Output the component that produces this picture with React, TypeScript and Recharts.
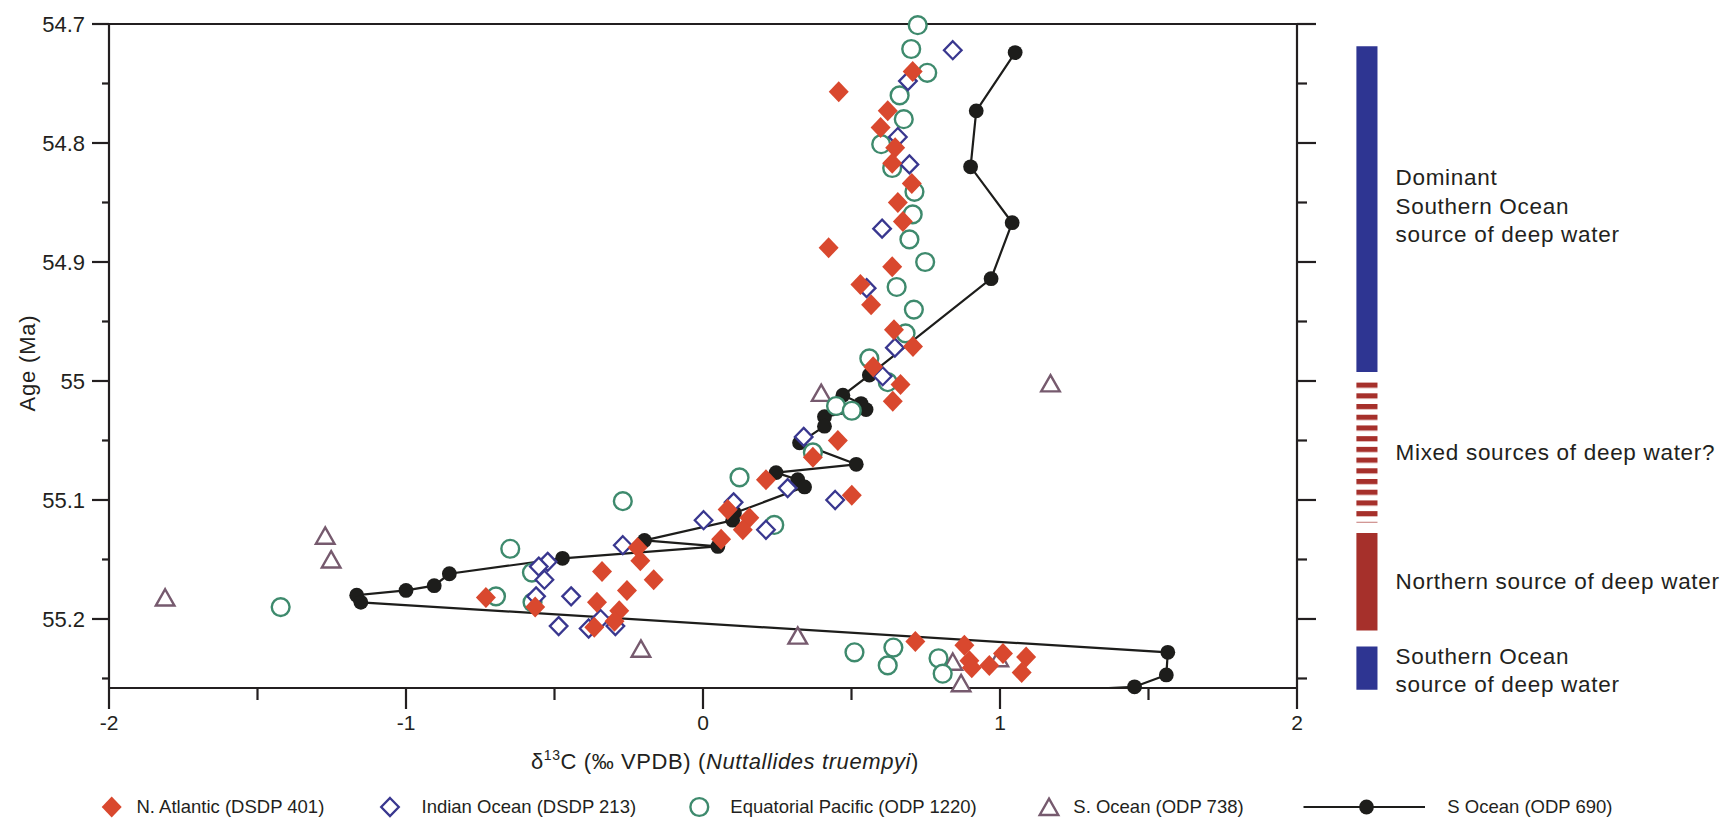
import React from 'react';
import { ScatterChart, Scatter, XAxis, YAxis, ReferenceArea, Legend, Label } from 'recharts';

const FONT = '"Liberation Sans", Arial, Helvetica, sans-serif';
const AXIS = '#231F20';
const TEXT = '#231F20';
const RED = '#D9482E';
const NAVY = '#39378F';
const GREEN = '#3E8A6D';
const MAUVE = '#765A6E';
const BLACK = '#1D1D1B';
const BAR_BLUE = '#2E3592';
const BAR_RED = '#A6302B';

const X_DOMAIN: [number, number] = [-2, 2];
const AGE_DOMAIN: [number, number] = [54.7, 55.258];
const X_TICKS = [-2, -1.5, -1, -0.5, 0, 0.5, 1, 1.5, 2];
const X_MAJOR = [-2, -1, 0, 1, 2];
const AGE_TICKS = [54.7, 54.75, 54.8, 54.85, 54.9, 54.95, 55, 55.05, 55.1, 55.15, 55.2, 55.25];
const AGE_MAJOR = [54.7, 54.8, 54.9, 55, 55.1, 55.2];

type P = { x: number; y: number };

// N. Atlantic (DSDP 401)
const N_ATLANTIC: P[] = [
  { x: 0.706, y: 54.740 }, { x: 0.457, y: 54.757 }, { x: 0.622, y: 54.773 }, { x: 0.598, y: 54.787 },
  { x: 0.647, y: 54.804 }, { x: 0.637, y: 54.817 }, { x: 0.703, y: 54.834 }, { x: 0.656, y: 54.850 },
  { x: 0.673, y: 54.866 }, { x: 0.423, y: 54.888 }, { x: 0.637, y: 54.904 }, { x: 0.530, y: 54.919 },
  { x: 0.566, y: 54.936 }, { x: 0.643, y: 54.957 }, { x: 0.707, y: 54.971 }, { x: 0.573, y: 54.988 },
  { x: 0.665, y: 55.003 }, { x: 0.639, y: 55.017 }, { x: 0.454, y: 55.050 }, { x: 0.370, y: 55.064 },
  { x: 0.212, y: 55.083 }, { x: 0.501, y: 55.096 }, { x: 0.083, y: 55.108 }, { x: 0.156, y: 55.115 },
  { x: 0.134, y: 55.125 }, { x: 0.061, y: 55.133 }, { x: -0.220, y: 55.140 }, { x: -0.211, y: 55.151 },
  { x: -0.340, y: 55.160 }, { x: -0.166, y: 55.167 }, { x: -0.256, y: 55.176 }, { x: -0.357, y: 55.186 },
  { x: -0.282, y: 55.193 }, { x: -0.565, y: 55.190 }, { x: -0.731, y: 55.182 }, { x: -0.298, y: 55.202 },
  { x: -0.366, y: 55.207 }, { x: 0.715, y: 55.219 }, { x: 0.880, y: 55.222 }, { x: 0.897, y: 55.235 },
  { x: 0.905, y: 55.241 }, { x: 0.964, y: 55.239 }, { x: 1.010, y: 55.229 }, { x: 1.088, y: 55.232 },
  { x: 1.073, y: 55.245 },
];

// Indian Ocean (DSDP 213)
const INDIAN: P[] = [
  { x: 0.841, y: 54.722 }, { x: 0.690, y: 54.748 }, { x: 0.656, y: 54.795 }, { x: 0.695, y: 54.818 },
  { x: 0.603, y: 54.872 }, { x: 0.551, y: 54.922 }, { x: 0.646, y: 54.972 }, { x: 0.605, y: 54.996 },
  { x: 0.339, y: 55.047 }, { x: 0.285, y: 55.090 }, { x: 0.445, y: 55.100 }, { x: 0.103, y: 55.102 },
  { x: 0.002, y: 55.117 }, { x: 0.212, y: 55.125 }, { x: -0.270, y: 55.138 }, { x: -0.523, y: 55.152 },
  { x: -0.553, y: 55.156 }, { x: -0.534, y: 55.167 }, { x: -0.562, y: 55.181 }, { x: -0.444, y: 55.181 },
  { x: -0.486, y: 55.206 }, { x: -0.385, y: 55.208 }, { x: -0.345, y: 55.200 }, { x: -0.295, y: 55.206 },
];

// Equatorial Pacific (ODP 1220)
const EQ_PACIFIC: P[] = [
  { x: 0.723, y: 54.701 }, { x: 0.701, y: 54.721 }, { x: 0.755, y: 54.741 }, { x: 0.662, y: 54.760 },
  { x: 0.676, y: 54.780 }, { x: 0.600, y: 54.801 }, { x: 0.637, y: 54.821 }, { x: 0.712, y: 54.841 },
  { x: 0.706, y: 54.860 }, { x: 0.695, y: 54.881 }, { x: 0.748, y: 54.900 }, { x: 0.652, y: 54.921 },
  { x: 0.710, y: 54.940 }, { x: 0.682, y: 54.960 }, { x: 0.560, y: 54.981 }, { x: 0.622, y: 55.001 },
  { x: 0.448, y: 55.021 }, { x: 0.501, y: 55.025 }, { x: 0.370, y: 55.060 }, { x: 0.123, y: 55.081 },
  { x: -0.270, y: 55.101 }, { x: 0.240, y: 55.121 }, { x: -0.649, y: 55.141 }, { x: -0.576, y: 55.161 },
  { x: -0.697, y: 55.181 }, { x: -0.574, y: 55.186 }, { x: -1.422, y: 55.190 }, { x: 0.510, y: 55.228 },
  { x: 0.641, y: 55.224 }, { x: 0.622, y: 55.239 }, { x: 0.793, y: 55.233 }, { x: 0.807, y: 55.246 },
];

// S. Ocean (ODP 738)
const S_OCEAN_738: P[] = [
  { x: 0.398, y: 55.010 }, { x: 1.170, y: 55.002 }, { x: -1.272, y: 55.130 }, { x: -1.252, y: 55.150 },
  { x: -1.811, y: 55.182 }, { x: -0.209, y: 55.225 }, { x: 0.319, y: 55.214 }, { x: 0.841, y: 55.236 },
  { x: 0.869, y: 55.254 }, { x: 0.996, y: 55.233 },
];

// S Ocean (ODP 690), in age order
const S_OCEAN_690: P[] = [
  { x: 1.051, y: 54.724 }, { x: 0.920, y: 54.773 }, { x: 0.901, y: 54.820 }, { x: 1.041, y: 54.867 },
  { x: 0.970, y: 54.914 }, { x: 0.560, y: 54.995 }, { x: 0.471, y: 55.012 }, { x: 0.532, y: 55.019 },
  { x: 0.549, y: 55.024 }, { x: 0.409, y: 55.030 }, { x: 0.409, y: 55.038 }, { x: 0.325, y: 55.052 },
  { x: 0.516, y: 55.070 }, { x: 0.246, y: 55.077 }, { x: 0.319, y: 55.083 }, { x: 0.342, y: 55.089 },
  { x: 0.106, y: 55.111 }, { x: 0.100, y: 55.117 }, { x: -0.197, y: 55.134 }, { x: 0.050, y: 55.139 },
  { x: -0.473, y: 55.149 }, { x: -0.854, y: 55.162 }, { x: -0.905, y: 55.172 }, { x: -1.000, y: 55.176 },
  { x: -1.166, y: 55.180 }, { x: -1.152, y: 55.186 }, { x: 1.565, y: 55.228 }, { x: 1.560, y: 55.247 },
  { x: 1.453, y: 55.257 },
];
// continuation of the ODP 690 record below the plotted age range (clipped)
const S_OCEAN_690_TAIL: P[] = [
  { x: 1.453, y: 55.257 }, { x: 1.0, y: 55.2625 },
];

const BAND_X: [number, number] = [2.2, 2.271];
const BANDS = [
  { from: 54.7187, to: 54.9924, fill: BAR_BLUE, lines: ['Dominant', 'Southern Ocean', 'source of deep water'], shift: -3 },
  { from: 55.0008, to: 55.1189, fill: 'url(#mixStripes)', lines: ['Mixed sources of deep water?'], shift: 0 },
  { from: 55.1277, to: 55.2097, fill: BAR_RED, lines: ['Northern source of deep water'], shift: -1 },
  { from: 55.2231, to: 55.2595, fill: BAR_BLUE, lines: ['Southern Ocean', 'source of deep water'], shift: 2 },
];

const isIn = (v: number, arr: number[]) => arr.some((m) => Math.abs(m - v) < 1e-6);
const TW = 2.2;

const LeftTick = (p: any) => {
  const major = isIn(p.payload.value, AGE_MAJOR);
  return (
    <g>
      <line x1={p.x} x2={p.x - (major ? 17 : 7)} y1={p.y} y2={p.y} stroke={AXIS} strokeWidth={TW} />
      {major && (
        <text x={p.x - 24} y={p.y} dy="0.35em" textAnchor="end" fontSize={22} fill={TEXT} fontFamily={FONT}>
          {String(p.payload.value)}
        </text>
      )}
    </g>
  );
};
const RightTick = (p: any) => {
  const major = isIn(p.payload.value, AGE_MAJOR);
  return <line x1={p.x} x2={p.x + (major ? 19 : 10)} y1={p.y} y2={p.y} stroke={AXIS} strokeWidth={TW} />;
};
const BottomTick = (p: any) => {
  const major = isIn(p.payload.value, X_MAJOR);
  return (
    <g>
      <line x1={p.x} x2={p.x} y1={p.y} y2={p.y + (major ? 21 : 12)} stroke={AXIS} strokeWidth={TW} />
      {major && (
        <text x={p.x} y={p.y + 35} dy="0.35em" textAnchor="middle" fontSize={21} fill={TEXT} fontFamily={FONT}>
          {String(p.payload.value)}
        </text>
      )}
    </g>
  );
};
const TopTick = (p: any) => {
  const major = isIn(p.payload.value, X_MAJOR);
  return <line x1={p.x} x2={p.x} y1={p.y} y2={p.y - (major ? 16 : 7)} stroke={AXIS} strokeWidth={TW} />;
};

const RedDiamond = (p: any) => (
  <polygon points={`${p.cx},${p.cy - 10.5} ${p.cx + 10},${p.cy} ${p.cx},${p.cy + 10.5} ${p.cx - 10},${p.cy}`} fill={RED} />
);
const NavyDiamond = (p: any) => (
  <polygon points={`${p.cx},${p.cy - 9} ${p.cx + 8.8},${p.cy} ${p.cx},${p.cy + 9} ${p.cx - 8.8},${p.cy}`} fill="#fff" stroke={NAVY} strokeWidth={2.3} />
);
const GreenCircle = (p: any) => <circle cx={p.cx} cy={p.cy} r={8.9} fill="#fff" stroke={GREEN} strokeWidth={2.4} />;
const MauveTriangle = (p: any) => (
  <polygon points={`${p.cx},${p.cy - 8.3} ${p.cx + 9.3},${p.cy + 8} ${p.cx - 9.3},${p.cy + 8}`} fill="#fff" stroke={MAUVE} strokeWidth={2.4} strokeLinejoin="miter" />
);
const BlackDot = (p: any) => <circle cx={p.cx} cy={p.cy} r={7.4} fill={BLACK} />;
const NoMark = () => <g />;

const bandLabel = (lines: string[], shift: number) => (props: any) => {
  const vb = props.viewBox;
  if (!vb) return null;
  const x = vb.x + vb.width + 18;
  const cy = vb.y + vb.height / 2 + shift;
  const lh = 28.5;
  return (
    <text fontSize={22.5} letterSpacing={0.7} fill={TEXT} fontFamily={FONT}>
      {lines.map((l, i) => (
        <tspan key={i} x={x} y={cy + (i - (lines.length - 1) / 2) * lh} dy="0.35em">{l}</tspan>
      ))}
    </text>
  );
};

const AxisTitleX = (props: any) => {
  const vb = props.viewBox;
  const cx = vb.x + vb.width / 2 + 22;
  const y = vb.y + 81;
  return (
    <text x={cx} y={y} textAnchor="middle" fontSize={22} letterSpacing={0.6} fill={TEXT} fontFamily={FONT}>
      δ<tspan fontSize={14} dy={-9}>13</tspan>
      <tspan dy={9}>C (‰ VPDB) (</tspan>
      <tspan fontStyle="italic">Nuttallides truempyi</tspan>)
    </text>
  );
};
const AxisTitleY = (props: any) => {
  const vb = props.viewBox;
  const x = vb.x - 2;
  const y = vb.y + 339;
  return (
    <text x={x} y={y} transform={`rotate(-90 ${x} ${y})`} dy="0.35em" textAnchor="middle" fontSize={22} letterSpacing={0.8} fill={TEXT} fontFamily={FONT}>
      Age (Ma)
    </text>
  );
};

const LEGEND_ITEMS = [
  { label: 'N. Atlantic (DSDP 401)', icon: 'red', ix: 111.7, tx: 136.5 },
  { label: 'Indian Ocean (DSDP 213)', icon: 'navy', ix: 390, tx: 421.5 },
  { label: 'Equatorial Pacific (ODP 1220)', icon: 'green', ix: 699.3, tx: 730.3 },
  { label: 'S. Ocean (ODP 738)', icon: 'mauve', ix: 1049, tx: 1073.3 },
  { label: 'S Ocean (ODP 690)', icon: 'line', ix: 1366.5, tx: 1447.3 },
];

const LegendContent = () => {
  const cy = 17;
  return (
    <svg width={1735} height={34} style={{ display: 'block', overflow: 'visible' }}>
      {LEGEND_ITEMS.map((it) => (
        <g key={it.label}>
          {it.icon === 'red' && <RedDiamond cx={it.ix} cy={cy} />}
          {it.icon === 'navy' && <NavyDiamond cx={it.ix} cy={cy} />}
          {it.icon === 'green' && <GreenCircle cx={it.ix} cy={cy} />}
          {it.icon === 'mauve' && <MauveTriangle cx={it.ix} cy={cy} />}
          {it.icon === 'line' && (
            <g>
              <line x1={it.ix - 63} x2={it.ix + 58.5} y1={cy} y2={cy} stroke={BLACK} strokeWidth={2.2} />
              <BlackDot cx={it.ix} cy={cy} />
            </g>
          )}
          <text x={it.tx} y={cy} dy="0.35em" fontSize={18.5} fill={TEXT} fontFamily={FONT}>{it.label}</text>
        </g>
      ))}
    </svg>
  );
};

export default function App() {
  return (
    <div style={{ position: 'absolute', left: 0, top: 0, width: 1735, height: 820, background: '#fff' }}>
      <ScatterChart
        width={1735}
        height={820}
        margin={{ top: 8, right: 418, bottom: 0, left: 29 }}
        style={{ fontFamily: FONT }}
      >
        <defs>
          <pattern id="mixStripes" patternUnits="userSpaceOnUse" x={0} y={382.6} width={40} height={10.71}>
            <rect x={0} y={0} width={40} height={5.2} fill={BAR_RED} />
          </pattern>
        </defs>
        <XAxis
          xAxisId="b"
          type="number"
          dataKey="x"
          domain={X_DOMAIN}
          ticks={X_TICKS}
          interval={0}
          height={132}
          tickSize={0}
          tickMargin={0}
          tickLine={false}
          tick={<BottomTick />}
          axisLine={{ stroke: AXIS, strokeWidth: TW }}
        >
          <Label content={<AxisTitleX />} />
        </XAxis>
        <XAxis
          xAxisId="t"
          orientation="top"
          type="number"
          domain={X_DOMAIN}
          allowDataOverflow
          ticks={X_TICKS}
          interval={0}
          height={16}
          tickSize={0}
          tickMargin={0}
          tickLine={false}
          tick={<TopTick />}
          axisLine={{ stroke: AXIS, strokeWidth: TW }}
        />
        <YAxis
          yAxisId="l"
          type="number"
          dataKey="y"
          domain={AGE_DOMAIN}
          reversed
          ticks={AGE_TICKS}
          interval={0}
          width={80}
          tickSize={0}
          tickMargin={0}
          tickLine={false}
          tick={<LeftTick />}
          axisLine={{ stroke: AXIS, strokeWidth: TW }}
        >
          <Label content={<AxisTitleY />} />
        </YAxis>
        <YAxis
          yAxisId="r"
          orientation="right"
          type="number"
          dataKey="y"
          domain={AGE_DOMAIN}
          allowDataOverflow
          reversed
          ticks={AGE_TICKS}
          interval={0}
          width={20}
          tickSize={0}
          tickMargin={0}
          tickLine={false}
          tick={<RightTick />}
          axisLine={{ stroke: AXIS, strokeWidth: TW }}
        />
        {BANDS.map((b, i) => (
          <ReferenceArea
            key={i}
            xAxisId="b"
            yAxisId="l"
            x1={BAND_X[0]}
            x2={BAND_X[1]}
            y1={b.from}
            y2={b.to}
            ifOverflow="visible"
            fill={b.fill}
            fillOpacity={1}
            stroke="none"
            label={bandLabel(b.lines, b.shift)}
          />
        ))}
        <Scatter
          name="S Ocean (ODP 690) tail"
          data={S_OCEAN_690_TAIL}
          xAxisId="b"
          yAxisId="r"
          line={{ stroke: BLACK, strokeWidth: 2.2 }}
          lineType="joint"
          shape={<NoMark />}
          isAnimationActive={false}
          legendType="none"
        />
        <Scatter
          name="S Ocean (ODP 690)"
          data={S_OCEAN_690}
          xAxisId="b"
          yAxisId="l"
          line={{ stroke: BLACK, strokeWidth: 2.2 }}
          lineType="joint"
          shape={<BlackDot />}
          isAnimationActive={false}
        />
        <Scatter name="S. Ocean (ODP 738)" data={S_OCEAN_738} xAxisId="b" yAxisId="l" shape={<MauveTriangle />} isAnimationActive={false} />
        <Scatter name="Equatorial Pacific (ODP 1220)" data={EQ_PACIFIC} xAxisId="b" yAxisId="l" shape={<GreenCircle />} isAnimationActive={false} />
        <Scatter name="Indian Ocean (DSDP 213)" data={INDIAN} xAxisId="b" yAxisId="l" shape={<NavyDiamond />} isAnimationActive={false} />
        <Scatter name="N. Atlantic (DSDP 401)" data={N_ATLANTIC} xAxisId="b" yAxisId="l" shape={<RedDiamond />} isAnimationActive={false} />
        <Legend
          layout="vertical"
          align="center"
          verticalAlign="middle"
          content={<LegendContent />}
          wrapperStyle={{ position: 'absolute', left: 0, top: 790, width: 1735, height: 34 }}
        />
      </ScatterChart>
    </div>
  );
}
